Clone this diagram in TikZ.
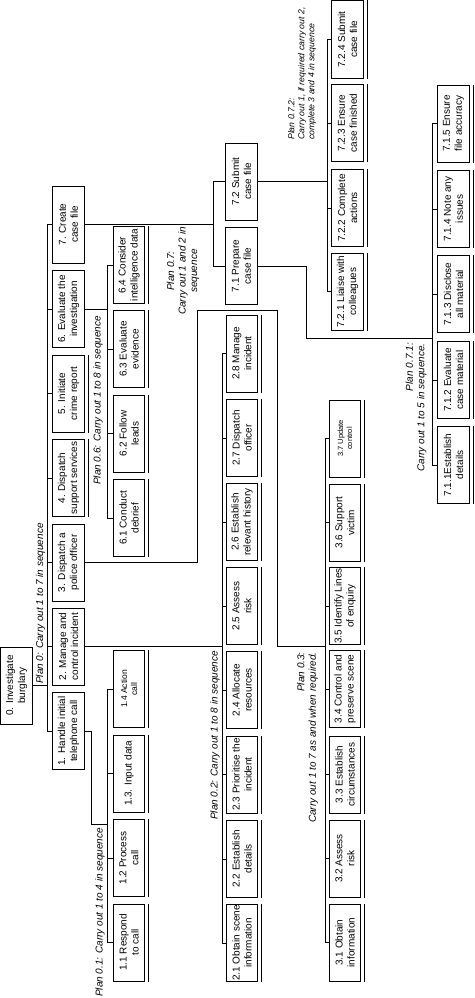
\documentclass[tikz,border=0pt]{standalone}
\usepackage{fontspec}
\setmainfont{Liberation Sans}
\usetikzlibrary{scopes}

\begin{document}
\begin{tikzpicture}[
    x=1pt, y=-1pt,
    task/.style={rectangle,draw,rotate=90,line width=1pt,minimum width=77pt,minimum height=31.5pt,inner sep=0.5pt,align=center,font=\fontsize{10}{12}\selectfont},
    plan/.style={rotate=90,inner sep=0pt,font=\fontsize{10}{11.5}\selectfont\itshape},
    link/.style={line width=1pt},
]
    \useasboundingbox (0,0) rectangle (474,998);

    % Top level
    \node[task] (n0) at (16.5,685.5) {0. Investigate\\burglary};
    \node[task] (n7) at (68.5,224.5) {7. Create\\case file};
    \node[task] (n6) at (68.5,309) {6. Evaluate the\\investigation};
    \node[task] (n5) at (68.5,393.5) {5. Initiate\\crime report};
    \node[task] (n4) at (68.5,478) {4. Dispatch\\support services};
    \node[task] (n3) at (68.5,562.5) {3. Dispatch a\\police officer};
    \node[task] (n2) at (68.5,646.5) {2. Manage and\\control incident};
    \node[task] (n1) at (68.5,731) {1. Handle initial\\telephone call};

    % Sub-tasks of 1
    \node[task] (n11) at (129,942.5) {1.1 Respond\\to call};
    \node[task] (n12) at (129,858) {1.2 Process\\call};
    \node[task] (n13) at (129,773.5) {1.3. Input data};
    \node[task,font=\fontsize{8.5}{10}\selectfont] (n14) at (129,689) {1.4 Action\\call};

    % Sub-tasks of 6
    \node[task] (n61) at (129,518) {6.1 Conduct\\debrief};
    \node[task] (n62) at (129,433.5) {6.2 Follow\\leads};
    \node[task] (n63) at (129,349) {6.3 Evaluate\\evidence};
    \node[task] (n64) at (129,265) {6.4 Consider\\intelligence data};

    % Sub-tasks of 2
    \node[task] (n21) at (242,943) {2.1 Obtain scene\\information};
    \node[task] (n22) at (242,859) {2.2 Establish\\details};
    \node[task] (n23) at (242,774.5) {2.3 Prioritise the\\incident};
    \node[task] (n24) at (242,690) {2.4 Allocate\\resources};
    \node[task] (n25) at (242,606) {2.5 Assess\\risk};
    \node[task] (n26) at (242,522) {2.6 Establish\\relevant history};
    \node[task] (n27) at (242,438) {2.7 Dispatch\\officer};
    \node[task] (n28) at (242,353.5) {2.8 Manage\\incident};

    % Sub-tasks of 3
    \node[task] (n31) at (345,942.5) {3.1 Obtain\\information};
    \node[task] (n32) at (345,858.5) {3.2 Assess\\risk};
    \node[task] (n33) at (345,774.5) {3.3 Establish\\circumstances};
    \node[task] (n34) at (345,689) {3.4 Control and\\preserve scene};
    \node[task] (n35) at (345,606) {3.5 Identify Lines\\of enquiry};
    \node[task] (n36) at (345,522.5) {3.6 Support\\victim};
    \node[task,font=\fontsize{7.5}{9}\selectfont] (n37) at (345,438.5) {3.7 Update\\control};

    % Sub-tasks of 7
    \node[task] (n71) at (241.5,266) {7.1 Prepare\\case file};
    \node[task] (n72) at (241.5,181.5) {7.2 Submit\\case file};
    \node[task] (n711) at (453.5,465) {7.1.1Establish\\details};
    \node[task] (n712) at (453.5,380) {7.1.2 Evaluate\\case material};
    \node[task] (n713) at (453.5,294) {7.1.3 Disclose\\all material};
    \node[task] (n714) at (453.5,209) {7.1.4 Note any\\issues};
    \node[task] (n715) at (453.5,123.5) {7.1.5 Ensure\\file accuracy};
    \node[task] (n721) at (347.5,291.5) {7.2.1 Liaise with\\colleagues};
    \node[task] (n722) at (347.5,208) {7.2.2 Complete\\actions};
    \node[task] (n723) at (347.5,123) {7.2.3 Ensure\\case finished};
    \node[task] (n724) at (347.5,39.5) {7.2.4 Submit\\case file};

    % Spines and bends
    \coordinate (s0) at (47,0);
    \coordinate (s1) at (107,0);
    \coordinate (s2) at (222,0);
    \coordinate (s3) at (325,0);
    \coordinate (s7) at (213,0);
    \coordinate (s71) at (432,0);
    \coordinate (s72) at (327,0);
    \coordinate (r1) at (91,824);
    \coordinate (r3a) at (197,310);
    \coordinate (r3b) at (277,646.5);
    \coordinate (r71) at (306,338);

    {[link]
        \draw (n0.south) -- (n0.south -| s0);
        \draw (n7.north) -- (n7.north -| s0) -- (n1.north -| s0) -- (n1.north);
        \foreach \n in {2,...,6} \draw (n\n.north) -- (n\n.north -| s0);

        \draw (n1.south) -| (r1) -- (r1 -| s1);
        \draw (n14.north) -- (n14.north -| s1) -- (n11.north -| s1) -- (n11.north);
        \foreach \n in {2,3} \draw (n1\n.north) -- (n1\n.north -| s1);

        \draw (n2.south) -- (n2.south -| s2);
        \draw (n28.north) -- (n28.north -| s2) -- (n21.north -| s2) -- (n21.north);
        \foreach \n in {2,...,7} \draw (n2\n.north) -- (n2\n.north -| s2);

        \draw (n3.south) -| (r3a) -| (r3b) -- (r3b -| s3);
        \draw (n37.north) -- (n37.north -| s3) -- (n31.north -| s3) -- (n31.north);
        \foreach \n in {2,...,6} \draw (n3\n.north) -- (n3\n.north -| s3);

        \draw (n6.south) -- (n6.south -| s1);
        \draw (n64.north) -- (n64.north -| s1) -- (n61.north -| s1) -- (n61.north);
        \foreach \n in {2,3} \draw (n6\n.north) -- (n6\n.north -| s1);

        \draw (n7.south) -- (n7.south -| s7);
        \draw (n72.north) -- (n72.north -| s7) -- (n71.north -| s7) -- (n71.north);
        \draw (n71.south) -| (r71) -- (r71 -| s71);
        \draw (n715.north) -- (n715.north -| s71) -- (n711.north -| s71) -- (n711.north);
        \foreach \n in {2,3,4} \draw (n71\n.north) -- (n71\n.north -| s71);
        \draw (n72.south) -- (n72.south -| s72);
        \draw (n724.north) -- (n724.north -| s72) -- (n721.north -| s72) -- (n721.north);
        \foreach \n in {2,3} \draw (n72\n.north) -- (n72\n.north -| s72);

        % second line under each bottom-level task
        \foreach \n in {n4,n5,n11,n12,n13,n14,n21,n22,n23,n24,n25,n26,n27,n28,n31,n32,n33,n34,n35,n36,n37,n61,n62,n63,n64,n711,n712,n713,n714,n715,n721,n722,n723,n724}
            \draw ([xshift=3.5pt]\n.south west) -- ([xshift=3.5pt]\n.south east);
    }

    % Plans
    \node[plan,anchor=west] (p0) at (40.5,684) {Plan 0: Carry out 1 to 7 in sequence};
    \node[plan,anchor=west] (p1) at (100,997) {Plan 0.1: Carry out 1 to 4 in sequence};
    \node[plan,anchor=west] (p2) at (215,820) {Plan 0.2: Carry out 1 to 8 in sequence};
    \node[plan,anchor=west] (p6) at (98,485) {Plan 0.6: Carry out 1 to 8 in sequence};
    \node[plan,anchor=east,align=right] (p3) at (307.5,652) {Plan 0.3:\\Carry out 1 to 7 as and when required.};
    \node[plan,align=center] (p7) at (183,271) {Plan 0.7:\\Carry out 1 and 2 in\\sequence};
    \node[plan,anchor=east,align=right] (p71) at (416,343) {Plan 0.7.1:\\Carry out 1 to 5 in sequence.};
    \node[plan,anchor=west,align=left,font=\fontsize{8.7}{10}\selectfont\itshape] (p72) at (302,140) {Plan 0.7.2:\\Carry out 1, if required carry out 2,\\complete 3 and 4 in sequence};
\end{tikzpicture}
\end{document}
